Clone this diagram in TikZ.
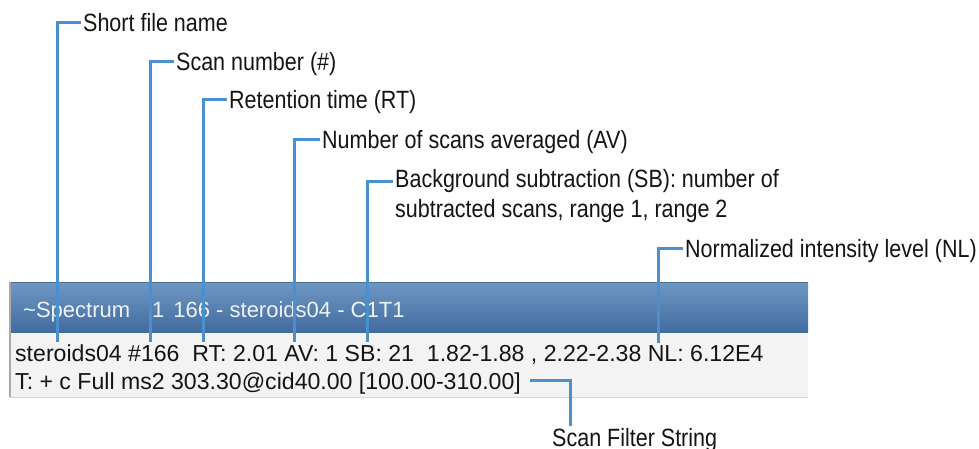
\documentclass[tikz,border=0pt]{standalone}
\usepackage{fontspec}
\setmainfont{Liberation Sans}
\newfontfamily\labelfont[FakeStretch=0.86]{Liberation Sans}
\usepackage{xcolor}
\usepackage{tikz}
\usetikzlibrary{positioning,calc}
\definecolor{tinta}{HTML}{141414}
\definecolor{guia}{HTML}{4A90CF}
\definecolor{barraSup}{HTML}{6F97C4}
\definecolor{barraInf}{HTML}{416C9E}
\definecolor{bordeBarra}{HTML}{4D6F96}
\definecolor{fondo}{HTML}{F3F3F3}
\definecolor{borde}{HTML}{A9A9A9}

\begin{document}
\begin{tikzpicture}[x=1pt,y=-1pt,
    lbl/.style={font=\labelfont\fontsize{25}{30}\selectfont,anchor=base west,
                inner sep=2pt,align=left,text=tinta},
    pantalla/.style={font=\fontsize{23.1}{27}\selectfont,anchor=base west,
                     inner sep=0pt,text=tinta},
    lead/.style={draw=guia,line width=3pt}]
  \useasboundingbox (0,0) rectangle (979,448);

  % ventana del espectro
  \fill[fondo] (10,332) rectangle (808,397);
  \draw[borde!50,line width=1pt] (10,397) -- (808,397);
  \shade[top color=barraSup,bottom color=barraInf] (10,282) rectangle (808,332);
  \draw[bordeBarra,line width=1pt] (10,282) -- (808,282);
  \draw[borde,line width=1.2pt] (10,282) -- (10,397);

  \node[pantalla,font=\fontsize{22}{26}\selectfont,text=white,opacity=0.9] (titulo) at (23,317)
    {\textasciitilde Spectrum\hspace{22pt}1\hspace{9pt}166 - steroids04 - C1T1};
  \node[pantalla] (linea1) at (15,361)
    {steroids04 \#166\ \ RT: 2.01 AV: 1 SB: 21\ \ 1.82-1.88 , 2.22-2.38 NL: 6.12E4};
  \node[pantalla] (linea2) at (15,389)
    {T: + c Full ms2 303.30@cid40.00 [100.00-310.00]};

  % etiquetas
  \node[lbl] (sfn) at (81,31)  {Short file name};
  \node[lbl] (scn) at (174,70) {Scan number (\#)};
  \node[lbl] (ret) at (227,108) {Retention time (RT)};
  \node[lbl] (avg) at (320,148) {Number of scans averaged (AV)};
  \node[lbl] (bgs) at (393,217) {Background subtraction (SB): number of\\subtracted scans, range 1, range 2};
  \node[lbl] (nil) at (683,257) {Normalized intensity level (NL)};
  \node[lbl] (sfs) at (550,446) {Scan Filter String};

  % puntos de llegada
  \coordinate (pSfn) at (57,342);
  \coordinate (pScn) at (150,342);
  \coordinate (pRet) at (203,342);
  \coordinate (pAvg) at (294,342);
  \coordinate (pBgs) at (367,342);
  \coordinate (pNil) at (658,343);
  \coordinate (pSfs) at (530,380);

  \foreach \n/\p/\s in {sfn/pSfn/9,scn/pScn/9,ret/pRet/9,avg/pAvg/9,bgs/pBgs/36,nil/pNil/9}{
    \draw[lead] ([yshift=\s pt]\n.base west) -| (\p);
  }
  \draw[lead] (pSfs) -| ([xshift=20pt]sfs.north west);
\end{tikzpicture}
\end{document}
